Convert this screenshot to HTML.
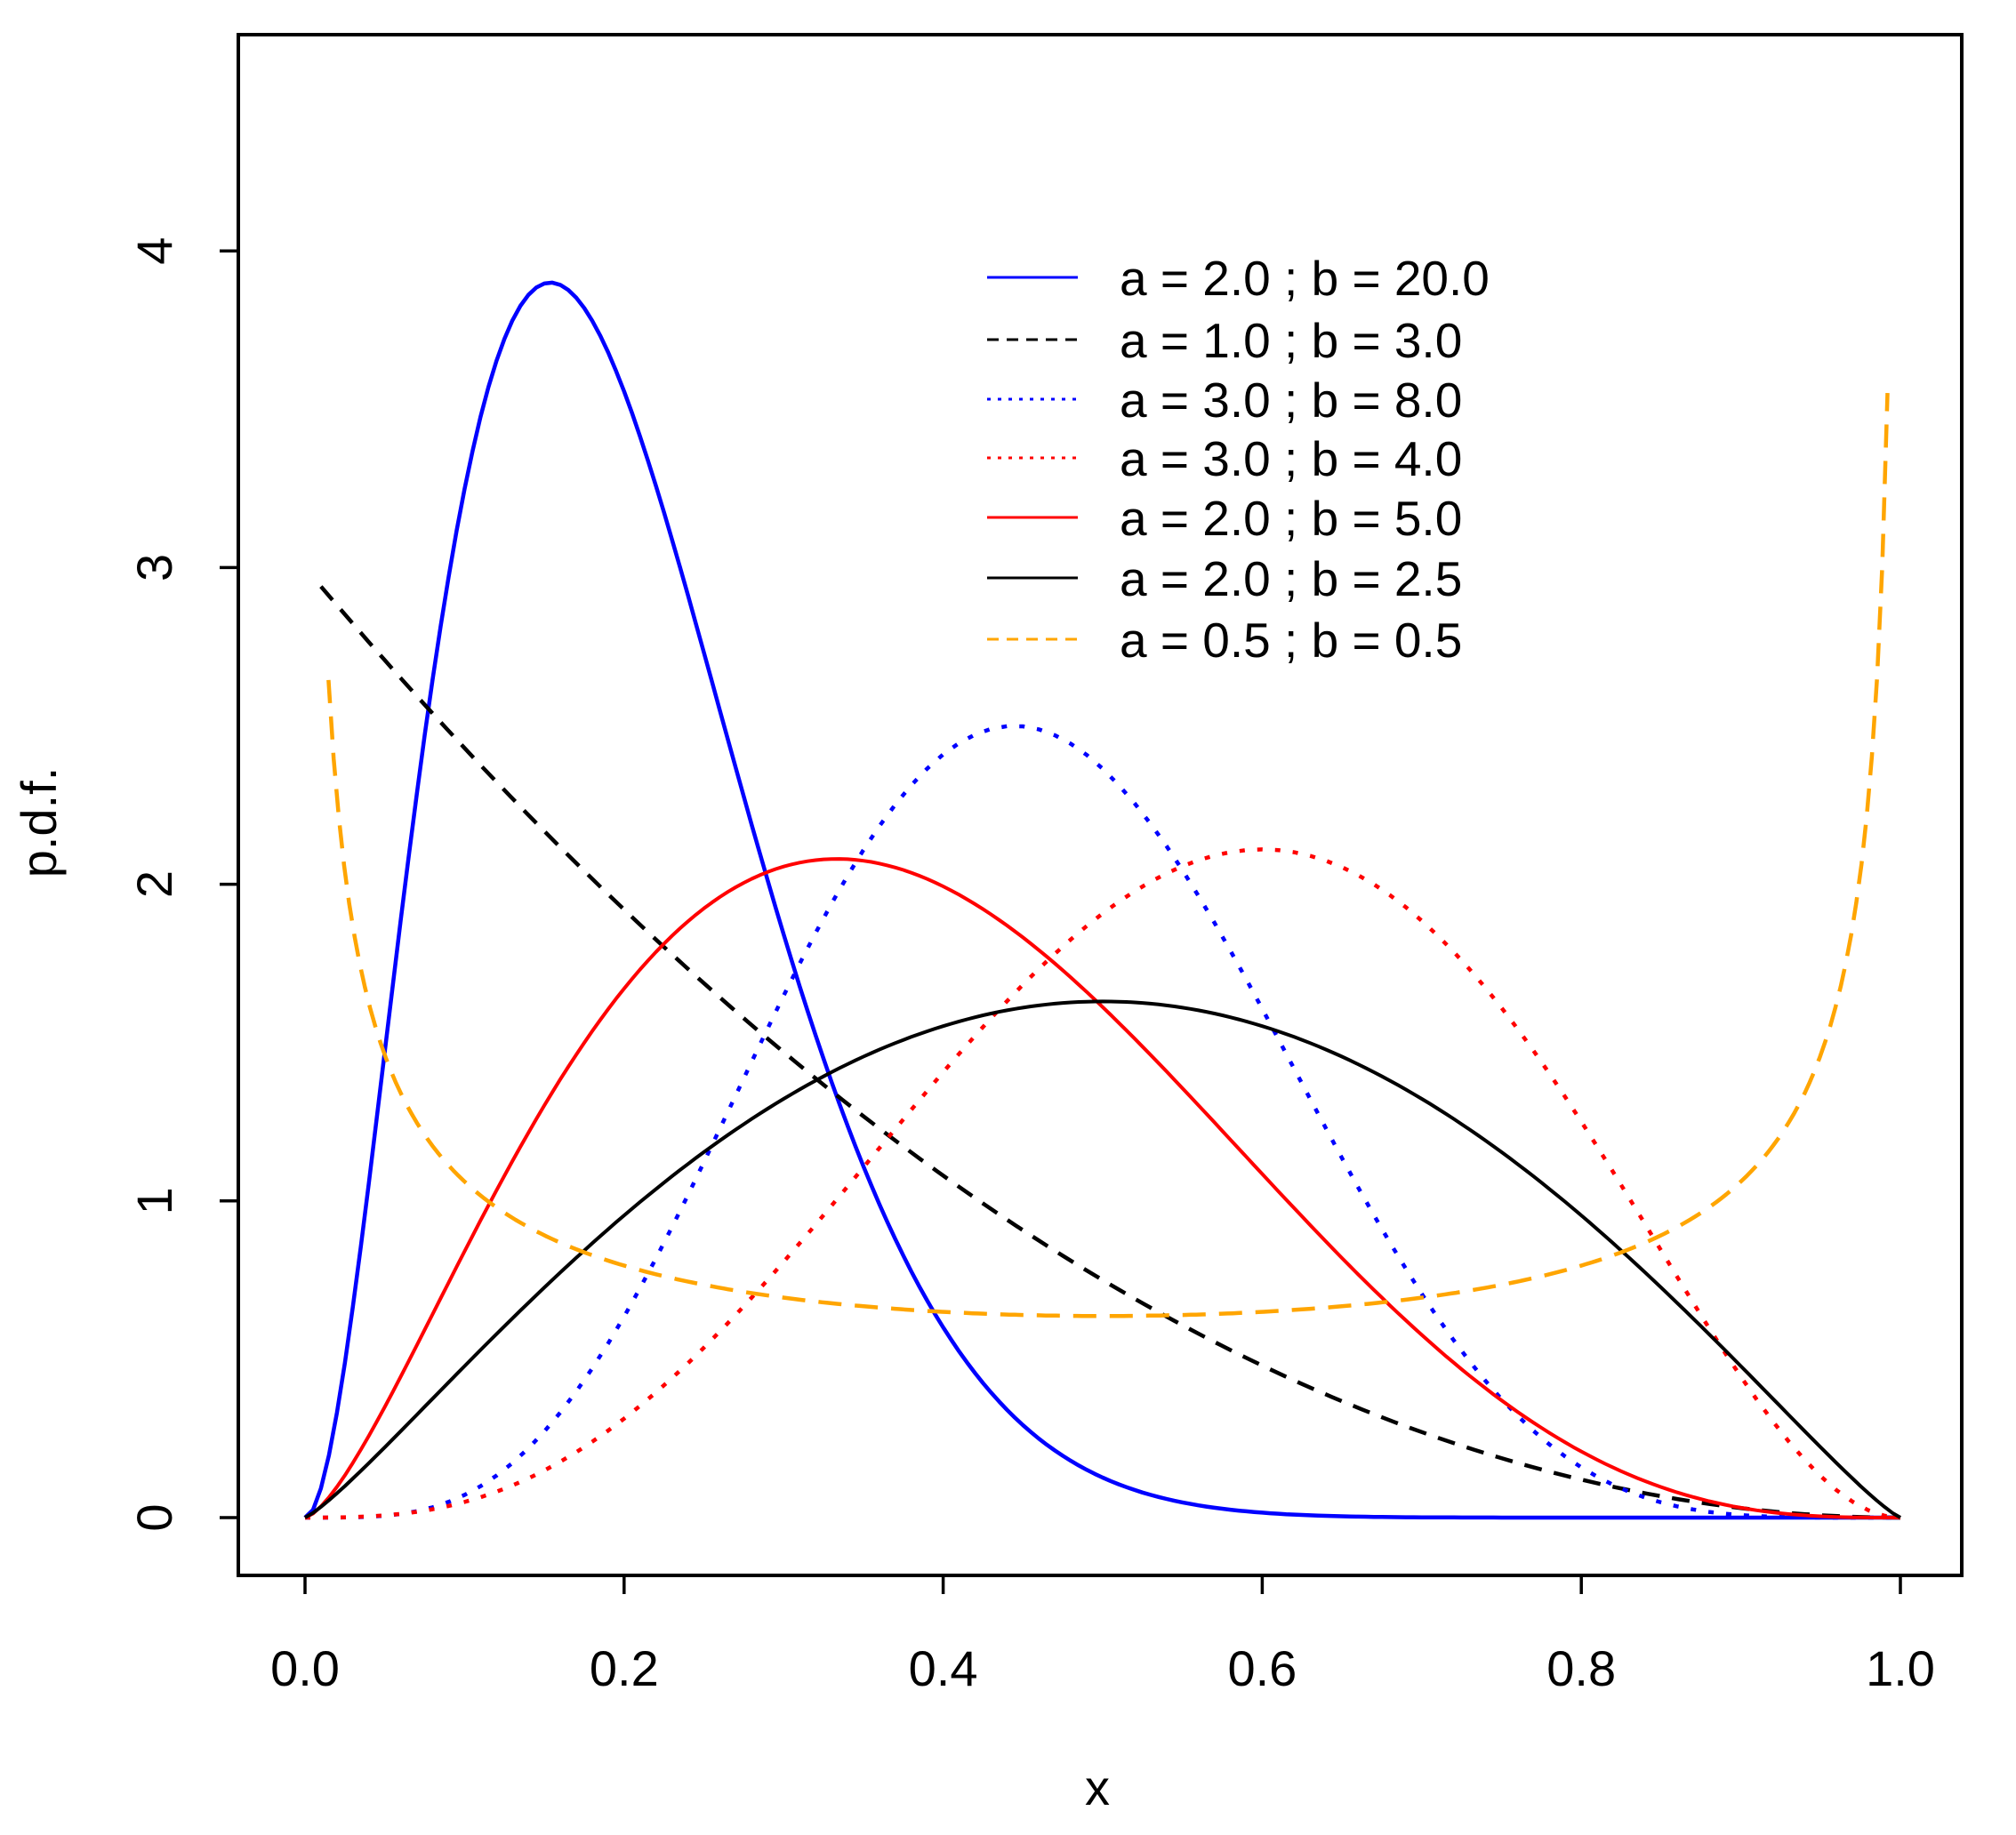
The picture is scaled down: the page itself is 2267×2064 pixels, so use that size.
<!DOCTYPE html>
<html><head><meta charset="utf-8"><style>
html,body{margin:0;padding:0;background:#fff;}
svg{display:block;font-family:"Liberation Sans",Arial,sans-serif;}
</style></head><body>
<svg id="s" width="2267" height="2064" viewBox="0 0 2267 2064" xmlns="http://www.w3.org/2000/svg">
<rect x="0" y="0" width="2267" height="2064" fill="#fff"/>
<rect x="268" y="39" width="1938" height="1733" fill="none" stroke="#000" stroke-width="4"/>
<g stroke="#000" stroke-width="3.5">
<line x1="343" y1="1772" x2="343" y2="1793"/>
<line x1="701.8" y1="1772" x2="701.8" y2="1793"/>
<line x1="1060.6" y1="1772" x2="1060.6" y2="1793"/>
<line x1="1419.4" y1="1772" x2="1419.4" y2="1793"/>
<line x1="1778.2" y1="1772" x2="1778.2" y2="1793"/>
<line x1="2137" y1="1772" x2="2137" y2="1793"/>
<line x1="247" y1="1707" x2="268" y2="1707"/>
<line x1="247" y1="1350.8" x2="268" y2="1350.8"/>
<line x1="247" y1="994.6" x2="268" y2="994.6"/>
<line x1="247" y1="638.4" x2="268" y2="638.4"/>
<line x1="247" y1="282.2" x2="268" y2="282.2"/>
</g>
<g font-size="56" text-anchor="middle" fill="#000">
<text x="343" y="1896">0.0</text>
<text x="701.8" y="1896">0.2</text>
<text x="1060.6" y="1896">0.4</text>
<text x="1419.4" y="1896">0.6</text>
<text x="1778.2" y="1896">0.8</text>
<text x="2137" y="1896">1.0</text>
<text x="1234" y="2030">x</text>
<text transform="translate(193,1707) rotate(-90)">0</text>
<text transform="translate(193,1350.8) rotate(-90)">1</text>
<text transform="translate(193,994.6) rotate(-90)">2</text>
<text transform="translate(193,638.4) rotate(-90)">3</text>
<text transform="translate(193,282.2) rotate(-90)">4</text>
<text transform="translate(63,925) rotate(-90)">p.d.f.</text>
</g>
<g id="curves" fill="none" stroke-linejoin="round"></g>
<g stroke-width="3" fill="none">
<line x1="1110" y1="312" x2="1212" y2="312" stroke="#0000ff"/>
<line x1="1110" y1="382" x2="1212" y2="382" stroke="#000" stroke-dasharray="13,9"/>
<line x1="1110" y1="449" x2="1212" y2="449" stroke="#0000ff" stroke-dasharray="4,8"/>
<line x1="1110" y1="515" x2="1212" y2="515" stroke="#ff0000" stroke-dasharray="4,8"/>
<line x1="1110" y1="582" x2="1212" y2="582" stroke="#ff0000"/>
<line x1="1110" y1="650" x2="1212" y2="650" stroke="#000"/>
<line x1="1110" y1="719" x2="1212" y2="719" stroke="#ffa500" stroke-dasharray="13,9"/>
</g>
<g font-size="55" fill="#000">
<text x="1259" y="332">a = 2.0 ; b = 20.0</text>
<text x="1259" y="402">a = 1.0 ; b = 3.0</text>
<text x="1259" y="469">a = 3.0 ; b = 8.0</text>
<text x="1259" y="535">a = 3.0 ; b = 4.0</text>
<text x="1259" y="602">a = 2.0 ; b = 5.0</text>
<text x="1259" y="670">a = 2.0 ; b = 2.5</text>
<text x="1259" y="739">a = 0.5 ; b = 0.5</text>
</g>
<script>
(function(){
function X(x){return 343+1794*x;}
function Y(y){return 1707-356.2*y;}
function shape(a,b){return function(x){return Math.pow(x,a-1)*Math.pow(1-x,b-1);};}
function curve(f,peak,x0,x1,n,color,w,dash){
  var mx=0,i,x,v;
  for(i=0;i<=2000;i++){x=i/2000;v=f(x);if(isFinite(v)&&v>mx)mx=v;}
  var sc=peak?peak/mx:1;
  var d="";
  for(i=0;i<=n;i++){x=x0+(x1-x0)*i/n;v=f(x)*sc;d+=(i?"L":"M")+X(x).toFixed(1)+","+Y(v).toFixed(1);}
  var p=document.createElementNS("http://www.w3.org/2000/svg","path");
  p.setAttribute("d",d);p.setAttribute("stroke",color);p.setAttribute("stroke-width",w);
  if(dash)p.setAttribute("stroke-dasharray",dash);
  document.getElementById("curves").appendChild(p);
}
curve(shape(3,12),3.9,0,1,200,"#0000ff",4.5,null);
curve(function(x){return 3*(1-x)*(1-x);},null,0.01,1,100,"#000",4.5,"20,14");
curve(shape(5,6),2.5,0,1,100,"#0000ff",4.5,"6,14");
curve(shape(4,3),2.11,0,1,100,"#ff0000",4.5,"6,14");
curve(shape(2.5,4),2.08,0,1,200,"#ff0000",4,null);
curve(shape(2.2,2.2),1.63,0,1,200,"#000",4,null);
curve(function(x){return 1/(Math.PI*Math.sqrt(x*(1-x)));},null,0.0147,0.9919,300,"#ffa500",4.5,"26,15");
})();
</script>
</svg>
</body></html>
